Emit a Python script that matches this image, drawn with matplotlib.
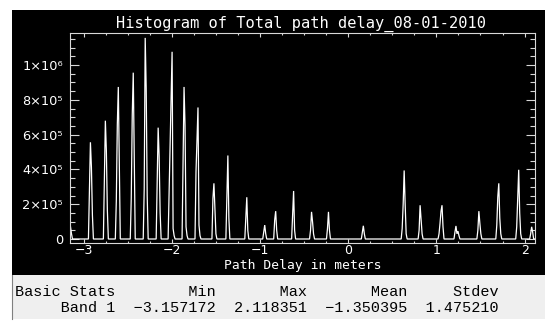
import numpy as np
import matplotlib
matplotlib.use("Agg")
import matplotlib.pyplot as plt
from matplotlib.patches import Rectangle
from matplotlib.lines import Line2D
from matplotlib.ticker import MultipleLocator, FixedLocator, FixedFormatter

# ---------------- data ----------------
title = "Histogram of Total path delay_08-01-2010"
x_label = "Path Delay in meters"
x_min, x_max = -3.157172, 2.118351
bin_width = 0.0113

# position of each spike cluster (metres) and counts of consecutive bins (x 1e5)
peak_positions = [-3.152, -2.922, -2.756, -2.605, -2.434, -2.306, -2.162, -2.003,
                  -1.867, -1.708, -1.523, -1.365, -1.152, -0.948, -0.820, -0.616,
                  -0.412, -0.222, 0.175, 0.635, 0.810, 1.063, 1.218, 1.479,
                  1.706, 1.933, 2.080]
peak_counts = [
    [0.7, 0.3],
    [2.80, 5.56, 4.13, 1.37],
    [3.37, 6.80, 5.09, 1.66],
    [2.19, 6.57, 8.74, 4.34],
    [2.36, 7.14, 9.56, 4.70],
    [2.86, 11.56, 8.67, 2.5],
    [3.20, 6.40, 4.74, 1.50],
    [2.69, 5.47, 8.04, 10.76, 0.6, 0.2],
    [4.36, 8.74, 6.51, 0.7, 0.2],
    [3.85, 5.66, 7.56, 0.8, 0.2],
    [2.34, 3.20, 1.70, 0.3],
    [2.34, 4.80, 1.20],
    [1.20, 2.40, 0.50],
    [0.40, 0.80, 0.30],
    [1.09, 1.60, 0.50],
    [1.40, 2.76, 0.50],
    [0.50, 1.56, 1.00, 0.30],
    [0.60, 1.56, 0.50],
    [0.40, 0.76, 0.30],
    [0.60, 2.00, 3.94, 2.00, 0.30],
    [0.50, 1.94, 1.10, 0.30],
    [0.30, 0.90, 1.60, 1.94, 0.70],
    [0.40, 0.75, 0.30, 0.45, 0.20],
    [0.50, 1.60, 0.90, 0.30],
    [0.80, 2.42, 3.20, 1.20, 0.30],
    [0.70, 2.40, 3.98, 1.50, 0.30],
    [0.30, 0.70, 0.40],
]

y_ticks = [0, 2e5, 4e5, 6e5, 8e5, 1e6]
y_tick_labels = ["0", "2×10⁵", "4×10⁵", "6×10⁵", "8×10⁵", "1×10⁶"]
x_ticks = [-3, -2, -1, 0, 1, 2]
x_tick_labels = ["\u22123", "\u22122", "\u22121", "0", "1", "2"]

stat_band = "Band 1"
stat_names = ["Min", "Max", "Mean", "Stdev"]
stat_values = [-3.157172, 2.118351, -1.350395, 1.475210]

# ---------------- build histogram ----------------
edges = np.arange(x_min, x_max + bin_width, bin_width)
centers = edges[:-1] + bin_width / 2
counts = np.zeros(len(centers))
for pos, vals in zip(peak_positions, peak_counts):
    k = int(np.argmax(vals))
    i0 = int(round((pos - x_min) / bin_width - 0.5)) - k
    for j, v in enumerate(vals):
        if 0 <= i0 + j < len(counts):
            counts[i0 + j] = v * 1e5

# ---------------- figure ----------------
W, H = 550, 332
fig = plt.figure(figsize=(W / 100, H / 100), dpi=100, facecolor="white")

def fx(px):
    return px / W

def fy(py):
    return 1 - py / H

# black panel
fig.add_artist(Rectangle((fx(11.7), fy(275)), fx(545) - fx(11.7), fy(10) - fy(275),
                         transform=fig.transFigure, facecolor="black", edgecolor="none", zorder=0))
# grey stats panel
fig.add_artist(Rectangle((fx(12), fy(319)), fx(545) - fx(12), fy(275) - fy(319),
                         transform=fig.transFigure, facecolor="#efefef", edgecolor="none", zorder=0))
fig.add_artist(Line2D([fx(12), fx(12)], [fy(319), fy(275)], transform=fig.transFigure,
                      color="#808080", lw=0.8))

ax = fig.add_axes([fx(70), fy(243), fx(535) - fx(70), fy(33) - fy(243)])
ax.set_facecolor("black")
ax.plot(centers, counts, color="white", lw=0.9, solid_joinstyle="miter")
ax.set_xlim(x_min, x_max)
ax.set_ylim(-2.3e4, 1.184e6)

axis_col = "#d8d8d8"
for s in ax.spines.values():
    s.set_color(axis_col)
    s.set_linewidth(0.8)

ax.xaxis.set_major_locator(FixedLocator(x_ticks))
ax.xaxis.set_major_formatter(FixedFormatter(x_tick_labels))
ax.xaxis.set_minor_locator(MultipleLocator(0.25))
ax.yaxis.set_major_locator(FixedLocator(y_ticks))
ax.yaxis.set_major_formatter(FixedFormatter(y_tick_labels))
ax.yaxis.set_minor_locator(MultipleLocator(5e4))

ax.tick_params(axis="x", which="major", direction="in", length=3.0, width=0.8, color=axis_col,
               top=True, bottom=True, labelcolor="white", labelsize=9, pad=1)
ax.tick_params(axis="x", which="minor", direction="in", length=1.6, width=0.8, color=axis_col,
               top=True, bottom=True)
ax.tick_params(axis="y", which="major", direction="in", length=6.7, width=0.8, color=axis_col,
               left=True, right=True, labelcolor="white", labelsize=9.3, pad=5)
ax.tick_params(axis="y", which="minor", direction="in", length=3.3, width=0.8, color=axis_col,
               left=True, right=True)

for lab in ax.get_xticklabels() + ax.get_yticklabels():
    lab.set_family("DejaVu Sans")

fig.text(fx(302.5), fy(269), x_label, color="white", fontsize=9.4, family="DejaVu Sans Mono",
         ha="center", va="baseline")

fig.text(fx(301.5), fy(28), title, color="white", fontsize=11.1, family="DejaVu Sans Mono",
         ha="center", va="baseline")

# stats table (monospace, right-aligned columns)
def fmt(v):
    return f"{v:.6f}".replace("-", "\u2212")

vals_txt = [fmt(v) for v in stat_values]
widths = [len(t) + 2 for t in vals_txt]
row1 = "Basic Stats" + "".join(f"{n:>{w}}" for n, w in zip(stat_names, widths))
row2 = f"{stat_band:>11}" + "".join(f"{t:>{w}}" for t, w in zip(vals_txt, widths))
mono = ["Liberation Mono", "DejaVu Sans Mono"]
fig.text(fx(15), fy(296), row1, family=mono, fontsize=10.9, color="black", va="baseline", ha="left")
fig.text(fx(15), fy(312), row2, family=mono, fontsize=10.9, color="black", va="baseline", ha="left")

fig.savefig("out.png", dpi=100, facecolor="white")
